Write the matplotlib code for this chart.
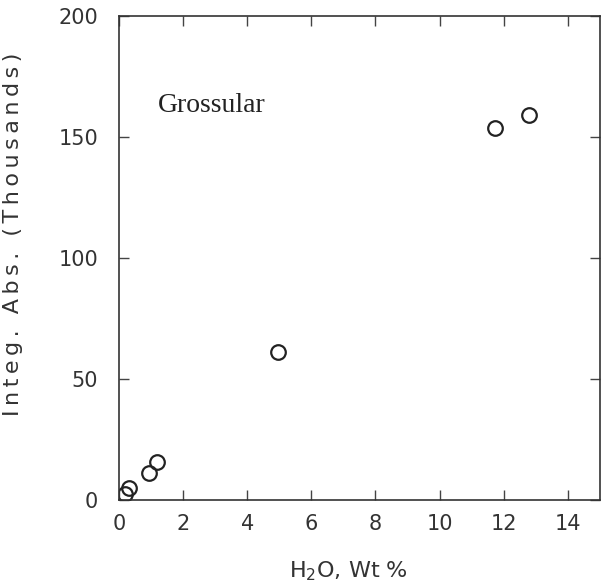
import numpy as np
import matplotlib.pyplot as plt

# H2O wt% vs integrated absorbance (thousands), grossular
h2o = [0.18, 0.30, 0.94, 1.19, 4.97, 11.72, 12.78]
integ_abs = [2.5, 5.0, 11.2, 15.7, 61.2, 153.7, 159.0]
xticks = [0, 2, 4, 6, 8, 10, 12, 14]
yticks = [0, 50, 100, 150, 200]

fig = plt.figure(figsize=(6.01, 5.86), dpi=100)
ax = fig.add_axes([0.198, 0.1468, 0.80, 0.8259])

ax.plot(h2o, integ_abs, 'o', mfc='none', mec='#222222', ms=10.5, mew=1.6)

ax.set_xlim(0, 15)
ax.set_ylim(0, 200)
ax.set_xticks(xticks)
ax.set_yticks(yticks)
ax.tick_params(direction='in', length=7, width=1, color='#444444',
               top=True, right=True, labelsize=15, labelcolor='#333333')
ax.tick_params(axis='x', pad=10)
ax.tick_params(axis='y', pad=15)
for s in ax.spines.values():
    s.set_linewidth(1.2)
    s.set_color('#333333')

ax.text(1.22, 163, 'Grossular', family='Liberation Serif', fontsize=20,
        color='#222222', va='center', ha='left')

# the original label has wide letter spacing
ylab = '\u2009'.join('Integ. Abs. (Thousands)')
ax.set_xlabel('H$_2$O, Wt %', fontsize=16, color='#333333')
ax.set_ylabel(ylab, fontsize=16, color='#333333')
ax.xaxis.set_label_coords(0.478, -0.122)
ax.yaxis.set_label_coords(-0.20, 0.548)

fig.savefig('out.png', dpi=100)
